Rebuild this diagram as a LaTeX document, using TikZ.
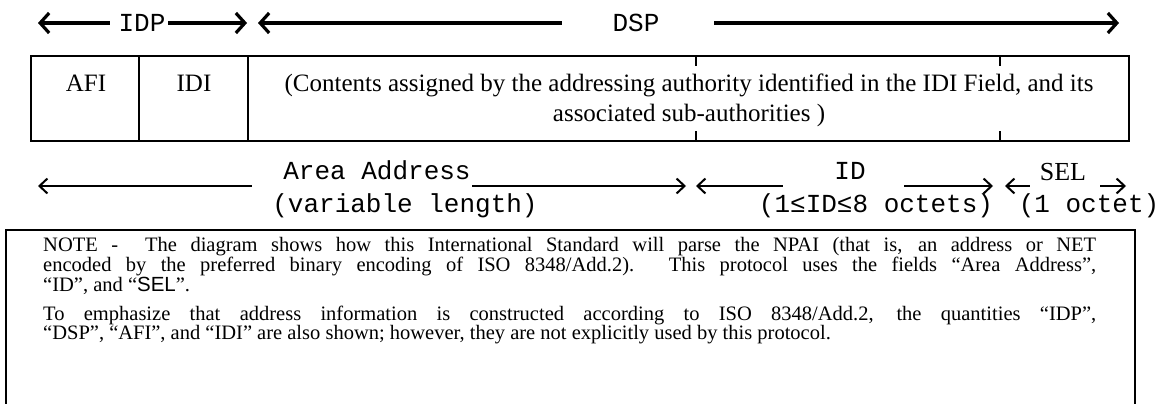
\documentclass[tikz,border=0pt]{standalone}
\usepackage{fontspec}
\setmainfont{Liberation Serif}
\newfontfamily\courier{Liberation Mono}
\newfontfamily\arial{Liberation Sans}
\setlength\parindent{0pt}
\usetikzlibrary{arrows.meta}

\begin{document}
\begin{tikzpicture}[x=1pt,y=-1pt,
        bigarr/.style={line width=3.2pt,-{Straight Barb[length=9pt,width=20pt]}},
        smallarr/.style={line width=2pt,-{Straight Barb[length=8pt,width=15pt]}},
        mono/.style={inner sep=0pt,font=\courier\fontsize{26}{26}\selectfont},
        serif/.style={inner sep=0pt,font=\fontsize{25}{29}\selectfont},
        notetext/.style={inner sep=0pt,text width=1053pt,align=justify,font=\fontsize{20.5}{17.5}\selectfont}]
        \useasboundingbox (0,0) rectangle (1159,404);

        % IDP and DSP
        \node[mono] (idp) at (142,23) {IDP};
        \node[mono] (dsp) at (636,23) {DSP};
        \coordinate (idpL) at (38,23);
        \coordinate (idpR) at (247,23);
        \coordinate (dspL) at (258,23);
        \coordinate (dspR) at (1119,23);
        \draw[bigarr, shorten <=8.6pt] (idp.west) -- (idpL);
        \draw[bigarr, shorten <=2.6pt] (idp.east) -- (idpR);
        \draw[bigarr, shorten <=50.6pt] (dsp.west) -- (dspL);
        \draw[bigarr, shorten <=54.6pt] (dsp.east) -- (dspR);

        % Fields
        \draw[line width=2pt] (31,56) rectangle (1129,141);
        \draw[line width=2pt] (139,56) -- (139,141);
        \draw[line width=2pt] (248,56) -- (248,141);
        \foreach \x in {696,1000} {
            \draw[line width=2pt] (\x,56) -- (\x,66);
            \draw[line width=2pt] (\x,131) -- (\x,141);
        }
        \node[serif, anchor=base] (afi) at (86,92) {AFI};
        \node[serif, anchor=base] (idi) at (194,92) {IDI};
        \node[serif, anchor=base] (cont) at (689,92) {(Contents assigned by the addressing authority identified in the IDI Field, and its};
        \node[serif, anchor=base] (contb) at (689,121) {associated sub-authorities )};

        % Area Address, ID, SEL
        \node[mono, anchor=base] (area) at (377,179) {Area Address};
        \node[mono, anchor=base] (arealen) at (405,212) {(variable length)};
        \node[mono, anchor=base] (id) at (850,179) {ID};
        \node[mono, anchor=base] (idlen) at (876,212) {(1≤ID≤8 octets)};
        \node[serif, anchor=base, font=\fontsize{26}{26}\selectfont] (sel) at (1063,180) {SEL};
        \node[mono, anchor=base] (sellen) at (1089,212) {(1 octet)};
        \coordinate (areaL) at (38,186);
        \coordinate (areaR) at (686,186);
        \coordinate (idL) at (696,186);
        \coordinate (idR) at (993,186);
        \coordinate (selL) at (1005,186);
        \coordinate (selR) at (1126,186);
        \draw[smallarr, shorten <=31.4pt] (area.west |- areaL) -- (areaL);
        \draw[smallarr, shorten <=1.4pt] (area.east |- areaR) -- (areaR);
        \draw[smallarr, shorten <=51.4pt] (id.west |- idL) -- (idL);
        \draw[smallarr, shorten <=38.4pt] (id.east |- idR) -- (idR);
        \draw[smallarr, shorten <=9.9pt] (sel.west |- selL) -- (selL);
        \draw[smallarr, shorten <=13.9pt] (sel.east |- selR) -- (selR);

        % Note
        \draw[line width=2.5pt] (6,404) |- (1135,230) -- (1135,404);
        \node[notetext, anchor=north west] (note) at (43,237.5) {NOTE -\ \ The diagram shows how this International Standard will parse the NPAI (that is, an address or NET\linebreak
            encoded by the preferred binary encoding of ISO 8348/Add.2). This protocol uses the fields “Area Address”,\linebreak
            “ID”, and “{\arial SEL}”.\par\vspace{10pt}
            To emphasize that address information is constructed according to ISO 8348/Add.2, the quantities “IDP”,\linebreak
            “DSP”, “AFI”, and “IDI” are also shown; however, they are not explicitly used by this protocol.\par};
    \end{tikzpicture}
\end{document}
